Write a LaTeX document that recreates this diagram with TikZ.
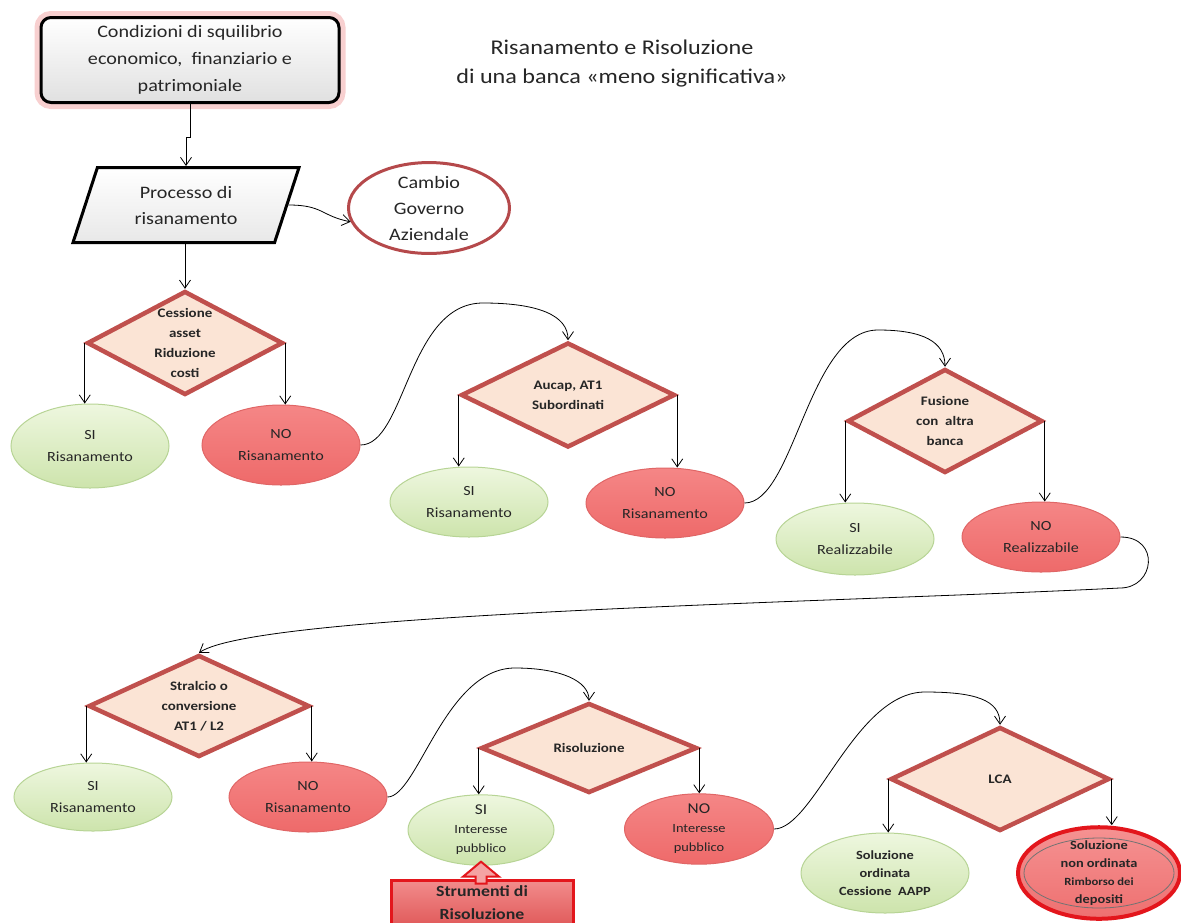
\documentclass[tikz,border=0pt]{standalone}
\usepackage{fontspec}
\setmainfont{Carlito}[FakeStretch=1.15]
\usetikzlibrary{shapes.geometric,arrows.meta,calc}
\definecolor{ink}{HTML}{262626}
\definecolor{bordo}{HTML}{C0504D}
\definecolor{rombobg}{HTML}{FBE4D5}
\definecolor{verdetop}{HTML}{EEF7DF}
\definecolor{verdebot}{HTML}{CDE4AC}
\definecolor{verdebd}{HTML}{B7D495}
\definecolor{rossotop}{HTML}{F58686}
\definecolor{rossobot}{HTML}{EE6A6A}
\definecolor{rossobd}{HTML}{E06666}
\definecolor{vivo}{HTML}{E3161C}
\definecolor{alone}{HTML}{F4B0B0}
\definecolor{govbd}{HTML}{B5494B}
\definecolor{finetop}{HTML}{F59292}
\definecolor{finebot}{HTML}{EE7070}
\definecolor{strumtop}{HTML}{F28C8C}
\definecolor{strumbot}{HTML}{E05A5A}
\definecolor{frecciabg}{HTML}{F4A3A3}
\tikzset{
  % riquadro iniziale: bordo nero spesso con alone rosa
  avvio/.style={draw=black, line width=3pt, rounded corners=10pt,
    top color=white, bottom color=black!12,
    preaction={draw=alone, line width=13pt, draw opacity=.6},
    minimum width=298, minimum height=85, align=center,
    font=\fontsize{17.5}{27}\selectfont, text=ink},
  % parallelogramma del processo
  proc/.style={trapezium, trapezium left angle=60, trapezium right angle=120,
    trapezium stretches body, draw=black, line width=3pt,
    top color=white, bottom color=black!9,
    minimum width=226, minimum height=75, inner sep=2pt, align=center,
    font=\fontsize{17.5}{26}\selectfont, text=ink},
  gov/.style={ellipse, draw=govbd, line width=3pt, fill=white,
    minimum width=161, minimum height=80, inner sep=0pt, align=center,
    font=\fontsize{17.5}{26}\selectfont, text=ink},
  % rombo di decisione (il testo sta in una label al centro)
  dec/.style={diamond, draw=bordo, line width=4.5pt, fill=rombobg, inner sep=0pt},
  dectxt/.style={align=center, font=\bfseries\fontsize{13}{20}\selectfont, text=ink},
  % esiti: verde = si, rosso = no
  siell/.style={ellipse, draw=verdebd, line width=1pt,
    top color=verdetop, bottom color=verdebot,
    minimum width=158, minimum height=72, inner sep=0pt, align=center,
    font=\fontsize{14}{22}\selectfont, text=ink},
  noell/.style={siell, draw=rossobd, top color=rossotop, bottom color=rossobot},
  fineell/.style={siell, draw=vivo, line width=4pt,
    top color=finetop, bottom color=finebot},
  strum/.style={draw=vivo, line width=3pt, top color=strumtop, bottom color=strumbot,
    minimum width=182, minimum height=46, align=center,
    font=\bfseries\fontsize{15.5}{23}\selectfont, text=ink},
  frecciona/.style={draw=vivo, line width=2pt, fill=frecciabg, line join=miter},
  arr/.style={draw=black, line width=.8pt, -{Straight Barb[length=8pt,width=11pt]}},
}

\newcommand{\rombo}[5]{%
  \node[dec, minimum width=#3, minimum height=#4,
        label={[dectxt]center:{#5}}] (#1) at (#2) {};}
\newcommand{\esito}[4]{%
  \node[#2] (#1) at (#3) {#4};}

\begin{document}
\begin{tikzpicture}[x=1pt,y=-1pt]
\useasboundingbox (0,0) rectangle (1181,922);

% ----- testata -----
\node[avvio] (start) at (190,60) {Condizioni di squilibrio\\economico,~ finanziario e\\patrimoniale};
\node[align=center, font=\fontsize{21}{29}\selectfont, text=ink] (titolo) at (622,64)
  {Risanamento e Risoluzione\\di una banca «meno significativa»};
\node[proc] (proc) at (186,205) {Processo di\\risanamento};
\node[gov] (gov) at (429,208) {Cambio\\Governo\\Aziendale};

% ----- riga 1 -----
\rombo{d1}{185,343}{196}{104}{Cessione\\asset\\Riduzione\\costi}
\esito{si1}{siell, minimum height=84}{90,446}{SI\\Risanamento}
\esito{no1}{noell, minimum height=80}{281,445}{NO\\Risanamento}
\rombo{d2}{568,395}{214}{105}{Aucap, AT1\\Subordinati}
\esito{si2}{siell, minimum height=70}{469,502}{SI\\Risanamento}
\esito{no2}{noell, minimum height=70}{665,503}{NO\\Risanamento}
\rombo{d3}{945,421}{195}{104}{Fusione\\con~ altra\\banca}
\esito{si3}{siell}{855,539}{SI\\Realizzabile}
\esito{no3}{noell, minimum height=70}{1041,537}{NO\\Realizzabile}

% ----- riga 2 -----
\rombo{d4}{199,706}{221}{102}{Stralcio o\\conversione\\AT1 / L2}
\esito{si4}{siell, minimum height=68}{93,797}{SI\\Risanamento}
\esito{no4}{noell, minimum height=70}{308,797}{NO\\Risanamento}
\rombo{d5}{589,748}{216}{90}{Risoluzione}
\esito{si5}{siell, minimum width=146, minimum height=62, font=\fontsize{12.5}{19}\selectfont}{481,830}
  {{\fontsize{15}{19}\selectfont SI}\\Interesse\\pubblico}
\esito{no5}{noell, minimum width=149, minimum height=62, font=\fontsize{12.5}{19}\selectfont}{699,829}
  {{\fontsize{15}{19}\selectfont NO}\\Interesse\\pubblico}
\rombo{d6}{1000,779}{219}{104}{LCA}
\esito{ord}{siell, minimum width=168, minimum height=80, font=\bfseries\fontsize{12.5}{18}\selectfont}{885,873}
  {Soluzione\\ordinata\\Cessione~ AAPP}
\esito{nonord}{fineell, minimum width=162, minimum height=82, font=\bfseries\fontsize{12.5}{18}\selectfont}{1099,873}
  {Soluzione\\non ordinata\\\fontsize{11}{17}\selectfont Rimborso dei\\depositi}
\draw[black!55, line width=.8pt] (nonord.center) ellipse [x radius=75, y radius=35];

% strumenti di risoluzione con freccia piena verso SI
\node[strum] (strum) at (482,903) {Strumenti di\\Risoluzione};
\draw[frecciona] ([yshift=4]si5.south) -- ++(18,15) -- ++(-12.5,0) -- ++(0,7) -- ++(-11,0)
  -- ++(0,-7) -- ++(-12.5,0) -- cycle;

% ----- connettori -----
\draw[arr] (start.south) -- ++(0,33) -| (proc.north);
\draw[arr] (proc.east) .. controls +(35,0) and +(-30,-6) .. (gov.190);
\draw[arr] (proc.south -| d1.north) -- (d1.north);

\coordinate (k1) at (483,303);
\coordinate (k2) at (878,330);
\coordinate (k3) at (1120,588);
\coordinate (k4) at (515,668);
\coordinate (k5) at (925,692);

\foreach \d/\s/\n in {d1/si1/no1, d2/si2/no2, d3/si3/no3, d4/si4/no4, d5/si5/no5, d6/ord/nonord} {
  \draw[arr] (\d.west) -- (\d.west |- \s.north);
  \draw[arr] (\d.east) -- (\d.east |- \n.north);
}

\draw[arr] (no1.east) .. controls +(45,0) and +(-75,0) .. (k1)
  .. controls +(55,0) and +(0,-25) .. (d2.north);
\draw[arr] (no2.east) .. controls +(50,0) and +(-70,0) .. (k2)
  .. controls +(45,0) and +(0,-25) .. (d3.north);
\draw[arr] (no3.east) .. controls +(40,0) and +(35,0) .. (k3)
  .. controls +(-300,15) and +(60,-40) .. (d4.north);
\draw[arr] (no4.east) .. controls +(30,0) and +(-70,0) .. (k4)
  .. controls +(45,0) and +(0,-20) .. (d5.north);
\draw[arr] (no5.east) .. controls +(40,0) and +(-70,0) .. (k5)
  .. controls +(50,0) and +(0,-25) .. (d6.north);

\end{tikzpicture}
\end{document}
